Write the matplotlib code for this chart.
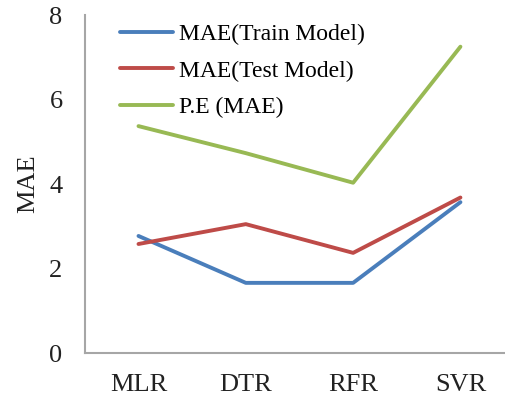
import matplotlib
matplotlib.use("Agg")
from matplotlib import pyplot as plt

# Datos del gráfico
modelos = ["MLR", "DTR", "RFR", "SVR"]
mae_train = [2.77, 1.66, 1.66, 3.57]
mae_test = [2.58, 3.05, 2.37, 3.68]
pe_mae = [5.37, 4.73, 4.03, 7.25]

plt.rcParams['font.family'] = ['Liberation Serif', 'DejaVu Serif']

fig = plt.figure(figsize=(5.05, 4.0), dpi=100)
ax = fig.add_axes([0.168, 0.1175, 0.85, 0.845])

x = range(len(modelos))
ax.plot(x, mae_train, color='#4A7EBB', lw=2.8, label='MAE(Train Model)', solid_capstyle='round')
ax.plot(x, mae_test, color='#BE4B48', lw=2.8, label='MAE(Test Model)', solid_capstyle='round')
ax.plot(x, pe_mae, color='#98B954', lw=2.8, label='P.E (MAE)', solid_capstyle='round')

ax.set_xlim(-0.5, 3.5)
ax.set_ylim(0, 8)
ax.set_yticks([0, 2, 4, 6, 8])
ax.set_xticks(list(x))
ax.set_xticklabels(modelos)
ax.tick_params(axis='both', length=0, labelsize=19, colors='#222222')
ax.tick_params(axis='y', pad=16)
ax.tick_params(axis='x', pad=15)

for lado in ['top', 'right']:
    ax.spines[lado].set_visible(False)
for lado in ['left', 'bottom']:
    ax.spines[lado].set_color('#A6A6A6')
    ax.spines[lado].set_linewidth(1.5)

ax.set_ylabel('MAE', fontsize=19, color='#222222', labelpad=7)

ax.legend(loc='upper left', bbox_to_anchor=(0.2376, 0.94), bbox_transform=fig.transFigure,
          frameon=False, fontsize=17, handlelength=2.25, handletextpad=0.25,
          labelspacing=0.62, borderpad=0, borderaxespad=0)

fig.savefig('out.png', dpi=100)
